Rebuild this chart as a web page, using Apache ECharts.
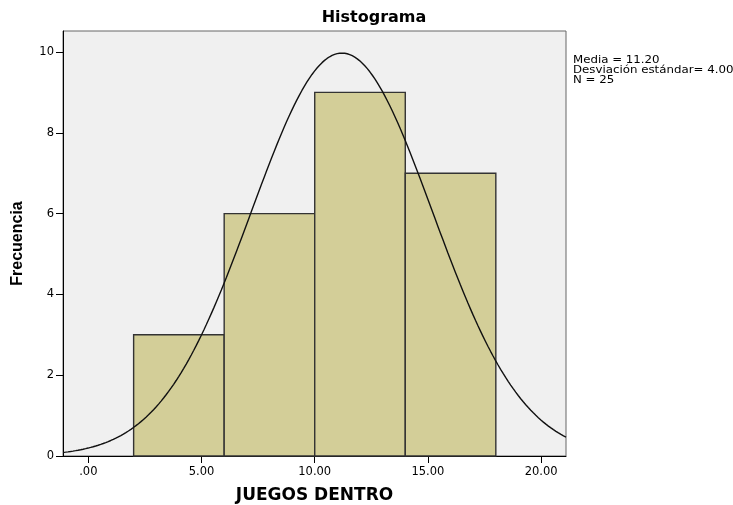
<!DOCTYPE html>
<html><head><meta charset="utf-8">
<script src="https://cdn.jsdelivr.net/npm/echarts@6/dist/echarts.min.js"></script>
<style>html,body{margin:0;padding:0;background:#fff}#c{width:733px;height:505px}</style>
</head><body><div id="c"></div>
<script>
// Histogram bins (start, end) and frequencies
var binStarts = [2, 6, 10, 14];
var binEnds = [6, 10, 14, 18];
var frequencies = [3, 6, 9, 7];
// Summary statistics shown in the legend
var mean = 11.20;
var stdDev = 4.00;
var nCount = 25;
var xTicks = [0, 5, 10, 15, 20];
var yTicks = [0, 2, 4, 6, 8, 10];

var binWidth = 4;
var xMin = -1.12, xMax = 21.1;
// Fitted normal curve (as drawn by SPSS: N * binWidth * pdf)
var curve = [];
for (var i = 0; i <= 200; i++) {
  var x = xMin + (xMax - xMin) * i / 200;
  var z = (x - mean) / stdDev;
  curve.push([x, nCount * binWidth * Math.exp(-0.5 * z * z) / (stdDev * Math.sqrt(2 * Math.PI))]);
}
var barData = binStarts.map(function (s, i) { return [s, binEnds[i], frequencies[i]]; });

var dv = '"DejaVu Sans", sans-serif';
var lib = '"Liberation Sans", Arial, sans-serif';
var chart = echarts.init(document.getElementById('c'), null, {renderer: 'canvas'});
chart.setOption({
  animation: false,
  title: {
    text: 'Histograma', left: 369, top: 5, textAlign: 'center',
    textStyle: {fontFamily: dv, fontSize: 16, fontWeight: 'bold', color: '#000'}
  },
  grid: {
    left: 63, right: 167, top: 31, bottom: 49, show: true,
    containLabel: false, outerBoundsMode: 'none',
    backgroundColor: '#f0f0f0', borderColor: '#666', borderWidth: 1
  },
  graphic: [{
    type: 'text', x: 573, y: 55, scaleX: 1.18, originX: 0,
    style: {
      text: 'Media = ' + mean.toFixed(2) + '\nDesviación estándar= ' + stdDev.toFixed(2) + '\nN = ' + nCount,
      font: '10px ' + dv, fill: '#000', lineHeight: 10
    }
  }],
  xAxis: {
    type: 'value', min: xMin, max: xMax,
    name: 'JUEGOS DENTRO', nameLocation: 'middle', nameGap: 31,
    nameTextStyle: {fontFamily: dv, fontSize: 17, fontWeight: 'bold', color: '#000'},
    splitLine: {show: false},
    axisLine: {show: true, onZero: false, lineStyle: {color: '#000', width: 1}},
    axisTick: {show: true, customValues: xTicks, length: 7, lineStyle: {color: '#000'}},
    axisLabel: {
      customValues: xTicks, margin: 10, color: '#000', fontFamily: dv, fontSize: 11.5,
      formatter: function (v) { return v === 0 ? '.00' : v.toFixed(2); }
    }
  },
  yAxis: {
    type: 'value', min: 0, max: 10.52, interval: 2,
    name: 'Frecuencia', nameLocation: 'middle', nameGap: 37, nameRotate: 90,
    nameTextStyle: {fontFamily: lib, fontSize: 16, fontWeight: 'bold', color: '#000'},
    splitLine: {show: false},
    axisLine: {show: true, onZero: false, lineStyle: {color: '#000', width: 1}},
    axisTick: {show: true, customValues: yTicks, length: 7, lineStyle: {color: '#000'}},
    axisLabel: {customValues: yTicks, margin: 9, color: '#000', fontFamily: dv, fontSize: 11.5}
  },
  series: [{
    type: 'custom',
    data: barData,
    encode: {x: [0, 1], y: 2},
    renderItem: function (params, api) {
      var p0 = api.coord([api.value(0), 0]);
      var p1 = api.coord([api.value(1), api.value(2)]);
      return {
        type: 'rect',
        shape: {x: p0[0], y: p1[1], width: p1[0] - p0[0], height: p0[1] - p1[1]},
        style: {fill: '#d3ce98', stroke: '#333', lineWidth: 1.4}
      };
    },
    z: 2
  }, {
    type: 'line', data: curve, showSymbol: false, symbol: 'none', smooth: false,
    lineStyle: {color: '#111', width: 1.4}, z: 3
  }]
});
</script></body></html>
